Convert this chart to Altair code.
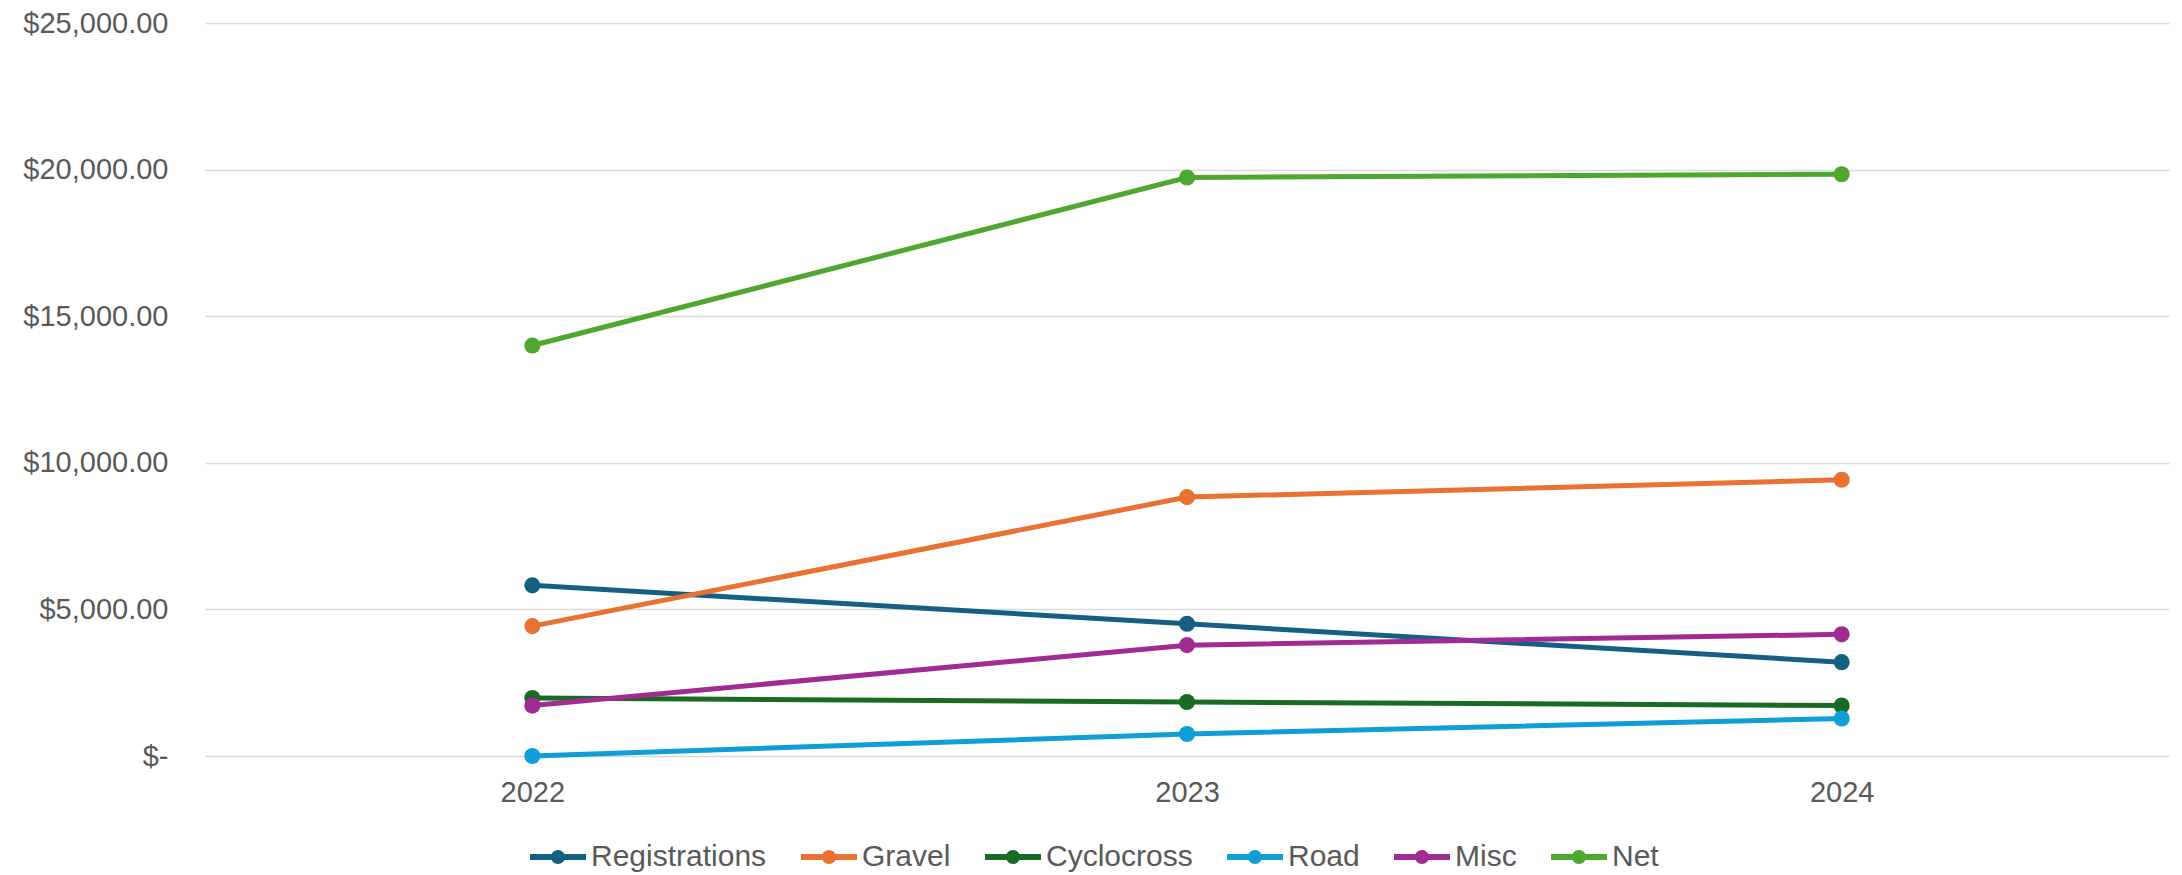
import altair as alt
import pandas as pd

years = ["2022", "2023", "2024"]
series = ["Registrations", "Gravel", "Cyclocross", "Road", "Misc", "Net"]
registrations = [5820, 4510, 3200]
gravel = [4430, 8830, 9420]
cyclocross = [1980, 1840, 1720]
road = [0, 750, 1280]
misc = [1720, 3780, 4150]
net = [14000, 19730, 19840]
colors = ["#156082", "#E97132", "#196B24", "#0F9ED5", "#A02B93", "#4EA72E"]
y_ticks = [0, 5000, 10000, 15000, 20000, 25000]

values = [registrations, gravel, cyclocross, road, misc, net]
rows = []
for name, col, vals in zip(series, colors, values):
    for yr, v in zip(years, vals):
        rows.append({"Year": yr, "Series": name, "Value": v, "Hex": col})
df = pd.DataFrame(rows)

FONT = "Liberation Sans"
GREY = "#595959"
FS = 29

x_enc = alt.X(
    "Year:O",
    sort=years,
    scale=alt.Scale(type="point", padding=0.5),
    axis=alt.Axis(
        title=None, ticks=False, domain=False, grid=False, labelAngle=0,
        labelFont=FONT, labelFontSize=FS, labelColor=GREY, labelPadding=22,
    ),
)
y_enc = alt.Y(
    "Value:Q",
    scale=alt.Scale(domain=[0, 25000], nice=False),
    axis=alt.Axis(
        title=None, ticks=False, domain=False, values=y_ticks,
        gridColor="#D9D9D9", gridWidth=1.5,
        labelFont=FONT, labelFontSize=FS, labelColor=GREY, labelPadding=37,
        labelExpr="datum.value == 0 ? '$-\u2002\u2002' : '$' + format(datum.value, ',.2f')",
    ),
)

sym_path = ("M-1,-0.107L1,-0.107L1,0.107L-1,0.107Z "
            "M0.25,0A0.25,0.25,0,1,1,-0.25,0A0.25,0.25,0,1,1,0.25,0Z")

lines = alt.Chart(df).mark_line(strokeWidth=5).encode(
    x=x_enc,
    y=y_enc,
    stroke=alt.Stroke("Hex:N", scale=None),
    detail="Series:N",
    order=alt.Order("Year:O"),
)

points = alt.Chart(df).mark_point(filled=True, size=260, opacity=1, shape="circle").encode(
    x=x_enc,
    y=y_enc,
    fill=alt.Fill(
        "Series:N",
        scale=alt.Scale(domain=series, range=colors),
        legend=alt.Legend(
            title=None, orient="none", direction="horizontal",
            legendX=325, legendY=806,
            symbolType=sym_path, symbolSize=3136, symbolStrokeWidth=0,
            symbolOpacity=1,
            labelFont=FONT, labelFontSize=30, labelColor=GREY, labelLimit=0,
            labelOffset=5, columnPadding=34,
        ),
    ),
)

chart = alt.layer(lines, points).properties(
    width=1964,
    height=733,
    autosize=alt.AutoSizeParams(type="none"),
    padding={"left": 197, "top": 15, "right": 5, "bottom": 120},
    background="white",
).configure_view(stroke=None)

chart.save("out.html", embed_options={"renderer": "svg", "actions": False})
